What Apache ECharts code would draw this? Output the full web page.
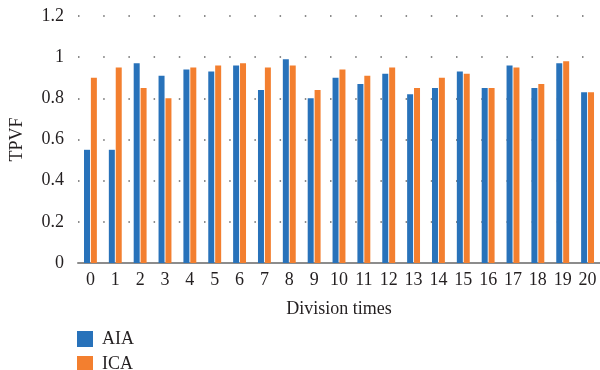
<!DOCTYPE html>
<html><head><meta charset="utf-8">
<script src="https://cdn.jsdelivr.net/npm/echarts@6/dist/echarts.min.js"></script>
<style>html,body{margin:0;padding:0;background:#fff}#c{width:600px;height:370px}</style>
</head><body><div id="c"></div>
<script>
const categories = ['0','1','2','3','4','5','6','7','8','9','10','11','12','13','14','15','16','17','18','19','20'];
const aia = [0.55,0.55,0.97,0.91,0.94,0.93,0.96,0.84,0.99,0.80,0.90,0.87,0.92,0.82,0.85,0.93,0.85,0.96,0.85,0.97,0.83];
const ica = [0.90,0.95,0.85,0.80,0.95,0.96,0.97,0.95,0.96,0.84,0.94,0.91,0.95,0.85,0.90,0.92,0.85,0.95,0.87,0.98,0.83];
const yTicks = ['0','0.2','0.4','0.6','0.8','1','1.2'];
const font = 'Liberation Serif';
const legendText = {fontFamily:font,fontSize:18,color:'#231f20',padding:[0,0,0,4]};
const chart = echarts.init(document.getElementById('c'));
chart.setOption({
  animation:false,
  textStyle:{fontFamily:font},
  grid:{left:74,right:-3,top:16,bottom:107},
  legend:[
    {left:72,top:325,itemWidth:16,itemHeight:16,icon:'rect',textStyle:legendText,data:['AIA']},
    {left:72,top:350,itemWidth:16,itemHeight:16,icon:'rect',textStyle:legendText,data:['ICA']}
  ],
  xAxis:{type:'category',data:categories,name:'Division times',nameLocation:'middle',nameGap:37,
    nameTextStyle:{fontFamily:font,fontSize:18,color:'#231f20'},
    axisLine:{lineStyle:{color:'#8c8c8c',width:2}},axisTick:{show:false},
    axisLabel:{fontFamily:font,fontSize:18,color:'#231f20',margin:8,interval:0}},
  yAxis:{type:'value',min:0,max:1.2,interval:0.2,name:'TPVF',nameLocation:'middle',nameGap:52,
    nameTextStyle:{fontFamily:font,fontSize:18,color:'#231f20'},
    axisLine:{show:false},axisTick:{show:false},
    axisLabel:{fontFamily:font,fontSize:18,color:'#231f20',margin:14,
      formatter:function(v){const i=Math.round(v/0.2);return yTicks[i]!==undefined?yTicks[i]:v;}},
    splitLine:{lineStyle:{color:'#666',width:1.5,type:[1.5,23.7]}}},
  series:[
    {name:'AIA',type:'bar',data:aia,barWidth:6,barGap:'15%',itemStyle:{color:'#2872ba'}},
    {name:'ICA',type:'bar',data:ica,barWidth:6,itemStyle:{color:'#f37f2f'}}
  ]
});
</script></body></html>
